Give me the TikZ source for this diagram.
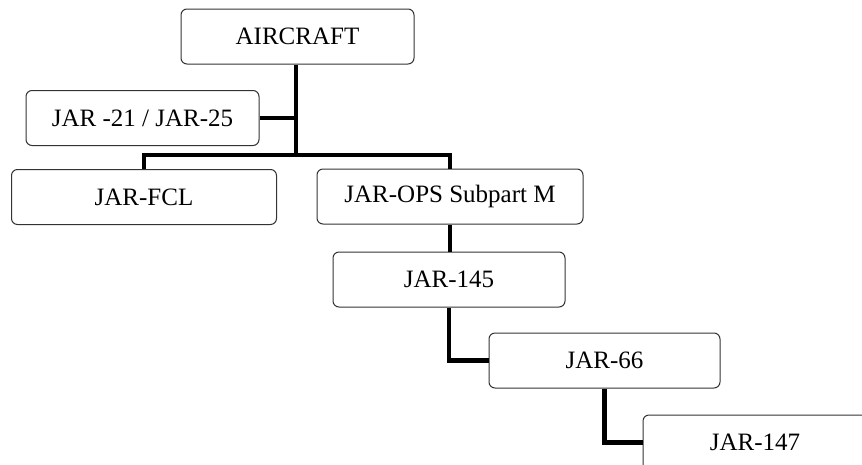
\documentclass[tikz,border=0pt]{standalone}
\usepackage{fontspec}
\setmainfont{Liberation Serif}
\begin{document}
\begin{tikzpicture}[x=1pt,y=-1pt,
  box/.style={draw=black!80,line width=1pt,rounded corners=6pt,fill=white,
    minimum width=#1,minimum height=55pt,inner sep=0pt,
    font=\fontsize{25}{28}\selectfont},
  link/.style={line width=4.5pt,black}]
\useasboundingbox (0,0) rectangle (862,464);
\clip (0,0) rectangle (862,464);
\node[box=233pt] (air) at (297.5,36.5) {AIRCRAFT};
\node[box=233pt] (jar21) at (142.5,118) {JAR -21 / JAR-25};
\node[box=265pt] (fcl) at (144,197) {JAR-FCL};
\node[box=266pt] (ops) at (450,196.5) {JAR-OPS Subpart M};
\node[box=232pt] (j145) at (449,279.5) {JAR-145};
\node[box=231pt] (j66) at (604.5,360.5) {JAR-66};
\node[box=224pt] (j147) at (755,442.5) {JAR-147};
\coordinate (split) at (296,155);
\draw[link] (air.south -| split) -- (split);
\draw[link] (jar21.east) -- (jar21.east -| split);
\draw[link] (fcl.north) |- (split) -| (ops.north);
\draw[link] (ops.south) -- (ops.south |- j145.north);
\draw[link] (j145.south) |- (j66.west);
\draw[link] (j66.south) |- (j147.west);
\end{tikzpicture}
\end{document}
